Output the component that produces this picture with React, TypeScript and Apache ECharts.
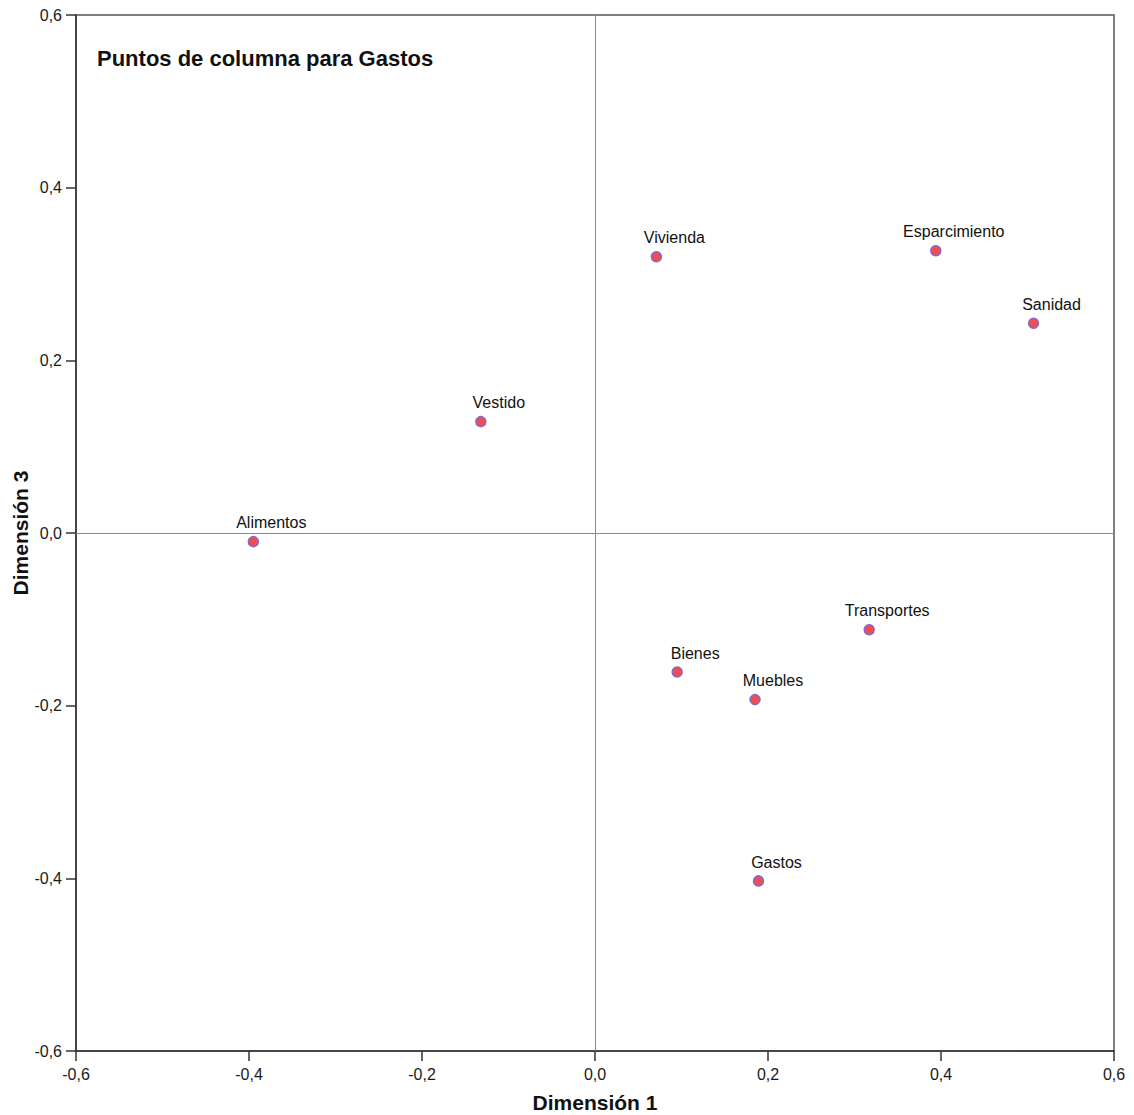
import React, { useEffect, useRef } from "react";
import * as echarts from "echarts";

// Column points (dimension 1 vs dimension 3)
const categories = [
  "Vivienda",
  "Esparcimiento",
  "Sanidad",
  "Vestido",
  "Alimentos",
  "Transportes",
  "Bienes",
  "Muebles",
  "Gastos",
];
const dim1 = [0.071, 0.394, 0.507, -0.132, -0.395, 0.317, 0.095, 0.185, 0.189];
const dim3 = [0.32, 0.327, 0.243, 0.129, -0.01, -0.112, -0.161, -0.193, -0.403];

const axisMin = -0.6;
const axisMax = 0.6;
const axisStep = 0.2;

const titleText = "Puntos de columna para Gastos";
const xTitle = "Dimensión 1";
const yTitle = "Dimensión 3";

const FONT = "Arial, 'Liberation Sans', sans-serif";

const fmt = (v: number) => {
  const s = (Math.abs(v) < 1e-9 ? 0 : v).toFixed(1);
  return s.replace(".", ",");
};

export default function App() {
  const ref = useRef<HTMLDivElement>(null);

  useEffect(() => {
    document.body.style.margin = "0";
    if (!ref.current) return;
    const chart = echarts.init(ref.current, undefined, { renderer: "svg" });

    const points = categories.map((name, i) => ({ name, value: [dim1[i], dim3[i]] }));

    const axisCommon = {
      min: axisMin,
      max: axisMax,
      interval: axisStep,
      splitLine: { show: false },
      axisLine: { onZero: false, lineStyle: { color: "#333", width: 1.5 } },
      axisTick: { show: true, length: 10, lineStyle: { color: "#333", width: 1.5 } },
      nameLocation: "middle" as const,
      nameMoveOverlap: false,
      nameTextStyle: { fontSize: 21, fontWeight: "bold" as const, color: "#111", fontFamily: FONT },
    };
    const labelCommon = {
      formatter: fmt,
      color: "#1a1a1a",
      fontSize: 16,
      fontFamily: FONT,
    };

    chart.setOption({
      animation: false,
      backgroundColor: "#fff",
      title: {
        text: titleText,
        left: 92,
        top: 42,
        textStyle: { fontSize: 22, fontWeight: "bold", color: "#111", fontFamily: FONT },
      },
      grid: {
        left: 76,
        top: 15,
        right: 20,
        bottom: 64,
        containLabel: false,
        outerBoundsMode: "none",
        show: true,
        borderColor: "#555",
        borderWidth: 1.5,
        backgroundColor: "transparent",
      },
      xAxis: {
        type: "value",
        ...axisCommon,
        name: xTitle,
        nameGap: 41,
        axisLabel: { ...labelCommon, margin: 15 },
      },
      yAxis: {
        type: "value",
        ...axisCommon,
        name: yTitle,
        nameGap: 45,
        axisLabel: { ...labelCommon, margin: 14 },
      },
      series: [
        {
          type: "scatter",
          data: points,
          symbol: "circle",
          symbolSize: 10,
          itemStyle: { color: "#ee4d52", borderColor: "#8a68c8", borderWidth: 1.5, opacity: 1 },
          label: {
            show: true,
            position: "top",
            distance: 5,
            offset: [18, 0],
            formatter: (p: any) => p.name,
            fontSize: 16,
            color: "#111",
            fontFamily: FONT,
          },
          markLine: {
            silent: true,
            symbol: "none",
            label: { show: false },
            lineStyle: { color: "#888", width: 1, type: "solid" },
            data: [{ xAxis: 0 }, { yAxis: 0 }],
          },
          z: 3,
        },
      ],
    });

    return () => chart.dispose();
  }, []);

  return <div ref={ref} style={{ width: 1134, height: 1115 }} />;
}
